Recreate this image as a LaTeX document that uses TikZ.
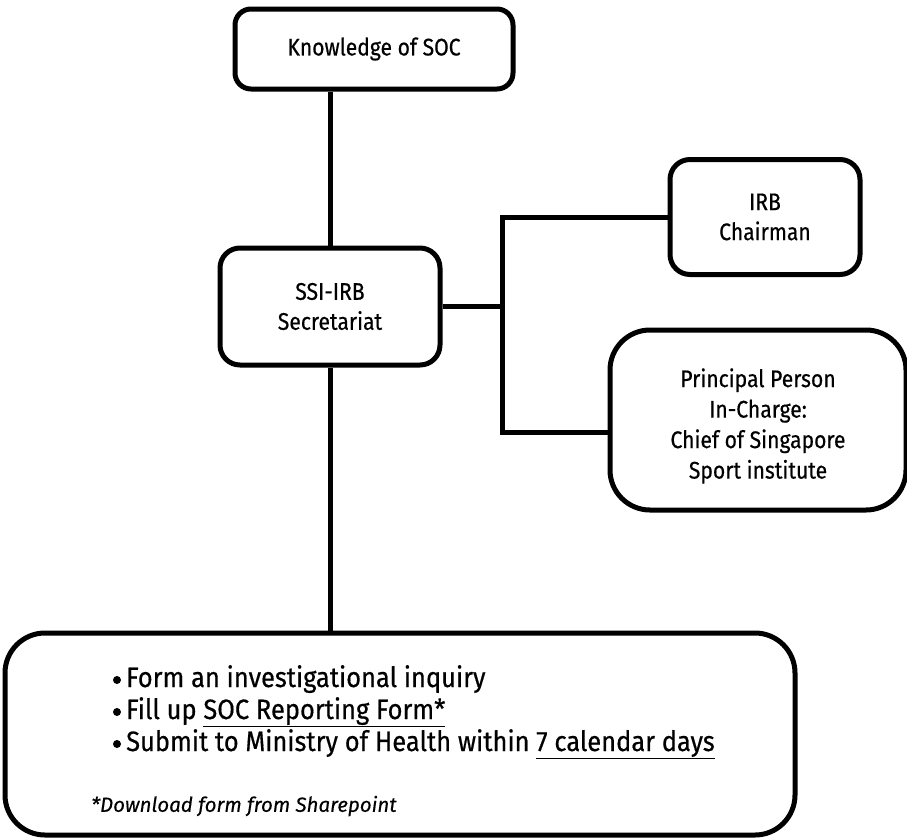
\documentclass[tikz,border=0pt]{standalone}
\usepackage{fontspec}
\setmainfont{Fira Sans}
\newfontfamily\boxfont[FakeStretch=0.88,FakeBold=0.5]{Fira Sans}
\newfontfamily\listfont[FakeStretch=0.91,FakeBold=0.5]{Fira Sans}
\newfontfamily\notefont[FakeStretch=1.0,FakeBold=0.3]{Fira Sans}
\begin{document}
\begin{tikzpicture}[x=1pt,y=-1pt,
  box/.style={draw=black, line width=5pt, align=center, inner sep=0pt,
    font=\boxfont\fontsize{24}{30}\selectfont},
  conn/.style={draw=black, line width=5pt},
  item/.style={anchor=base west, inner sep=0pt, font=\listfont\fontsize{28}{32}\selectfont},
  dot/.style={fill=black, circle, inner sep=0pt, minimum size=8pt}]
\useasboundingbox (0,0) rectangle (907,839);
\node[box, rounded corners=16pt, minimum width=278pt, minimum height=80pt] (know) at (374,49) {Knowledge of SOC};
\node[box, rounded corners=20pt, minimum width=220pt, minimum height=117pt] (ssi) at (330,306.5) {SSI-IRB\\Secretariat};
\node[box, rounded corners=20pt, minimum width=190pt, minimum height=115pt] (irb) at (765,217) {IRB\\Chairman};
\node[box, rounded corners=40pt, minimum width=296pt, minimum height=180pt] (pp) at (758,420) {};
\node[align=center, font=\boxfont\fontsize{24}{30.5}\selectfont] (pptext) at (758,426) {Principal Person\\In-Charge:\\Chief of Singapore\\Sport institute};
\node[box, rounded corners=40pt, minimum width=790pt, minimum height=202pt] (bot) at (400,734) {};
\node[item] (l1) at (126,687) {Form an investigational inquiry};
\node[item] (l2) at (126,719) {Fill up \underline{SOC Reporting Form*}};
\node[item] (l3) at (126,751) {Submit to Ministry of Health within \underline{7 calendar days}};
\node[dot] (d1) at (117,680) {};
\node[dot] (d2) at (117,712) {};
\node[dot] (d3) at (117,744) {};
\node[anchor=west, inner sep=0pt, font=\notefont\itshape\fontsize{20.5}{24}\selectfont] (note) at (91,806) {*Download form from Sharepoint};
\coordinate (jt) at (502,217);
\coordinate (jb) at (502,432);
\draw[conn] (ssi.north) -- (ssi.north |- know.south);
\draw[conn] (ssi.south) -- (ssi.south |- bot.north);
\draw[conn] (ssi.east) -- (ssi.east -| jt);
\draw[conn] (irb.west) -- (jt) -- (jb) -- (jb -| pp.west);
\end{tikzpicture}
\end{document}
